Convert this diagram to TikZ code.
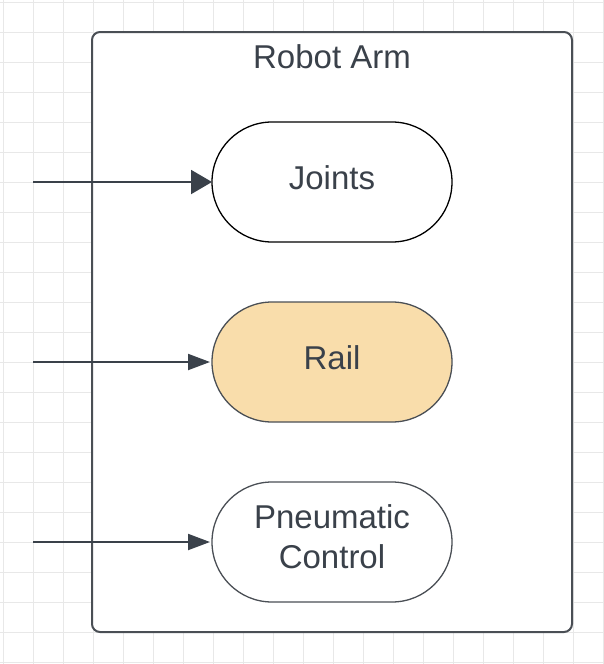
\documentclass[tikz,border=0pt]{standalone}
\usepackage{fontspec}
\setmainfont{Liberation Sans}
\usepackage{tikz}
\usetikzlibrary{arrows.meta, positioning}
\definecolor{inkgray}{HTML}{3A414A}
\definecolor{framegray}{HTML}{4A4F55}
\definecolor{gridgray}{HTML}{E8E8E8}
\definecolor{railfill}{HTML}{F9DDAB}

\begin{document}
\begin{tikzpicture}[x=1pt, y=-1pt, node distance=60pt, >=Triangle,
  part/.style={draw, rounded corners=60pt, align=center, minimum width=240pt, minimum height=120pt,
    outer sep=0pt, line width=1.3pt, text=inkgray, text height=24pt, text depth=10pt,
    font=\fontsize{33}{40}\selectfont}]
\useasboundingbox (0,0) rectangle (604,664);
% background grid
\foreach \i in {0,...,20} {
  \draw[gridgray, line width=1pt] (3+30*\i,0) -- (3+30*\i,664);
}
\foreach \j in {0,...,22} {
  \draw[gridgray, line width=1pt] (0,2+30*\j) -- (604,2+30*\j);
}
\node[draw=framegray, fill=white, line width=2pt, rounded corners=8pt, minimum width=480pt, minimum height=600pt, inner sep=0pt] (arm) at (332,332) {};
\node[text=inkgray, font=\fontsize{33}{40}\selectfont] (title) at (332,57) {Robot Arm};
\node[part, draw=black, fill=white] (joints) at (332,182) {Joints};
\node[part, draw=framegray, fill=railfill, below=of joints] (rail) {Rail};
\node[part, draw=framegray, fill=white, text height=64pt, text depth=12pt, below=of rail] (pneu) {Pneumatic\\Control};
\coordinate (in1) at (33,182);
\coordinate (in2) at (33,362);
\coordinate (in3) at (33,542);
\draw[->, inkgray, line width=2pt, arrows={-Triangle[length=21pt, width=24pt]}] (in1) -- (joints.west);
\draw[->, inkgray, line width=2pt, arrows={-Triangle[length=22pt, width=16pt]}] (in2) -- ([xshift=-2pt]rail.west);
\draw[->, inkgray, line width=2pt, arrows={-Triangle[length=22pt, width=16pt]}] (in3) -- ([xshift=-2pt]pneu.west);
\end{tikzpicture}
\end{document}
